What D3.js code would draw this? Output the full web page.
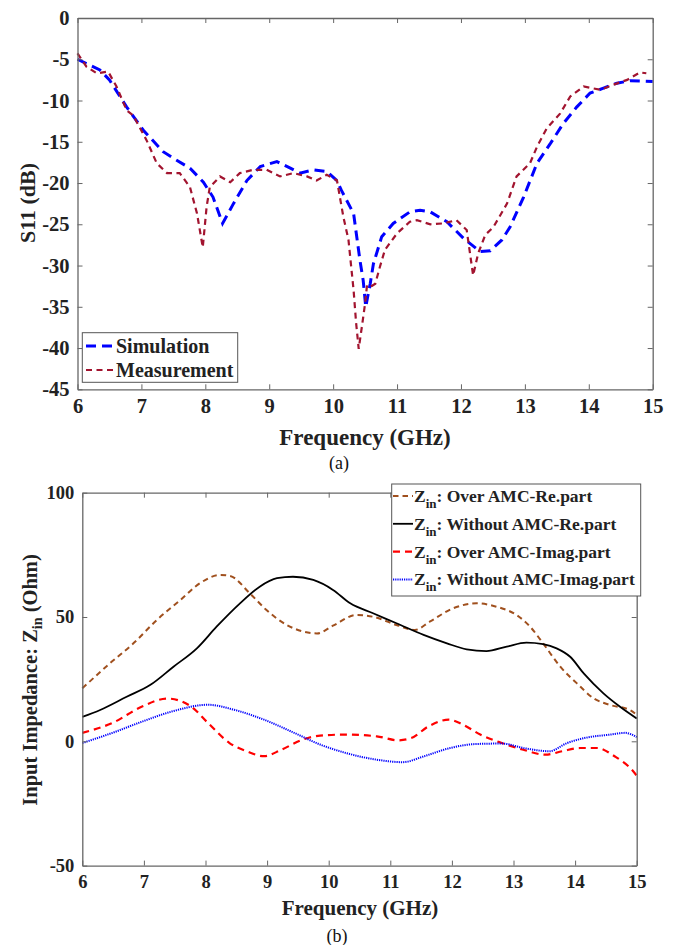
<!DOCTYPE html>
<html>
<head>
<meta charset="utf-8">
<script src="https://cdn.jsdelivr.net/npm/d3@7"></script>
<style>
  body { margin: 0; background: #fff; }
  svg { display: block; }
  .tick text { font-family: "Liberation Serif", "Times New Roman", serif; font-weight: bold; fill: #222; }
  .domain, .tick line { stroke: #666; }
  .lbl { font-family: "Liberation Serif", "Times New Roman", serif; font-weight: bold; fill: #222; }
  .cap { font-family: "Liberation Serif", "Times New Roman", serif; fill: #111; }
</style>
</head>
<body>
<div id="chart"></div>
<script>
// (a) S11 data
const simFreq = [6, 6.35, 6.5, 6.77, 7.03, 7.34, 7.5, 7.76, 7.97, 8.12, 8.27, 8.44, 8.65, 8.86, 9.12, 9.33, 9.48, 9.69, 9.9, 10.06,
  10.13, 10.32, 10.42, 10.47, 10.51, 10.58, 10.63, 10.76, 10.94, 11.2, 11.36, 11.52, 11.78, 12.04, 12.3, 12.46, 12.64, 12.77,
  12.98, 13.19, 13.4, 13.6, 13.81, 14.02, 14.23, 14.44, 14.65, 15];
const simS11 = [-5, -6.3, -7.5, -10.8, -13.6, -16.2, -17, -18.2, -19.9, -21.7, -24.9, -22.5, -19.7, -18, -17.4, -18.2, -18.8, -18.4, -18.6, -19.7,
  -20.9, -23.7, -29.4, -31.8, -35, -32.2, -29.8, -26.5, -24.9, -23.5, -23.3, -23.5, -24.7, -26.7, -28.3, -28.2, -26.9, -25.3,
  -21.7, -17.6, -15.2, -12.8, -10.8, -9.1, -8.5, -7.9, -7.6, -7.7];

const measFreq = [6, 6.14, 6.3, 6.48, 6.61, 6.77, 6.87, 7.08, 7.24, 7.4, 7.6, 7.76, 7.87, 7.96, 8.02, 8.07, 8.23, 8.39, 8.54, 8.75,
  8.96, 9.17, 9.38, 9.59, 9.74, 9.9, 10.06, 10.16, 10.24, 10.32, 10.36, 10.4, 10.45, 10.5, 10.53, 10.58, 10.66, 10.73, 10.81, 11,
  11.2, 11.31, 11.52, 11.72, 11.93, 12.09, 12.19, 12.27, 12.38, 12.51, 12.72, 12.87, 13.08, 13.19, 13.34, 13.55, 13.71, 13.92,
  14.18, 14.38, 14.6, 14.8, 14.9];
const measS11 = [-4.3, -5.9, -6.7, -6.5, -8.3, -11.2, -11.8, -14.8, -17.6, -18.8, -18.8, -20.5, -23.7, -27.8, -22.9, -20.5, -19.2, -19.9, -18.8, -18.4,
  -18.4, -19.2, -18.8, -19.2, -19.7, -19, -19.7, -24.1, -26.9, -33, -37, -40.1, -37.4, -34.6, -32.4, -32.6, -32.2, -30.2, -28.1, -26.1,
  -24.7, -24.5, -25, -24.9, -24.5, -25.7, -31.2, -28.5, -26.3, -25.3, -22.5, -19.2, -17.6, -15.6, -13.4, -11.6, -9.5, -8.3,
  -8.7, -8.1, -7.5, -6.6, -6.7];

// (b) input impedance data
const overReFreq = [6, 6.45, 6.83, 7.21, 7.59, 7.91, 8.24, 8.4, 8.72, 8.99, 9.32, 9.81, 10.07, 10.45, 10.72, 11.1, 11.4, 11.64,
  12.02, 12.4, 12.73, 13.05, 13.27, 13.48, 13.76, 14.03, 14.3, 14.57, 14.89, 15];
const overRe = [21.3, 31.4, 39.4, 48.8, 56.8, 63.6, 66.9, 66.5, 59.5, 52.8, 46.8, 43.4, 46.5, 50.8, 50.1, 46.8, 44.8, 48.1,
  53.5, 55.5, 54.1, 50.8, 46.1, 39.4, 30, 23.3, 17.3, 14.6, 12.6, 10.6];

const withoutReFreq = [6, 6.29, 6.72, 7.1, 7.48, 7.86, 8.18, 8.56, 8.88, 9.16, 9.42, 9.75, 10.07, 10.35, 10.72, 11.1, 11.54,
  11.92, 12.24, 12.56, 12.89, 13.21, 13.48, 13.7, 13.92, 14.14, 14.46, 14.73, 15];
const withoutRe = [9.8, 12.6, 17.9, 22.6, 30, 37.4, 46.1, 55.5, 62.2, 65.6, 66.2, 64.9, 60.9, 55.5, 51.5, 47.5, 42.8,
  39.4, 37, 36.3, 38.1, 39.7, 39.1, 37.4, 34, 27.3, 19.3, 13.9, 9.2];

const overImFreq = [6, 6.49, 6.98, 7.38, 7.76, 8.04, 8.39, 8.67, 8.95, 9.23, 9.58, 9.86, 10.28, 10.78, 11.13, 11.34, 11.62,
  11.95, 12.18, 12.46, 12.81, 13.16, 13.52, 13.79, 14.08, 14.36, 14.64, 14.92, 15];
const overIm = [3.4, 7.4, 14.1, 17.2, 14.1, 7.4, -0.7, -4, -6, -3.4, 0.7, 2.3, 2.7, 2, 0.4, 1.3, 6,
  8.7, 6.7, 2.7, -0.7, -3.4, -5.4, -4, -2.7, -2.7, -6, -11.4, -13.8];

const withoutImFreq = [6, 6.49, 6.98, 7.47, 8.04, 8.46, 8.95, 9.44, 9.86, 10.28, 10.78, 11.2, 11.55, 11.97, 12.39, 12.81,
  13.16, 13.58, 13.87, 14.15, 14.57, 14.81, 15];
const withoutIm = [-0.7, 3.4, 8, 12.1, 14.7, 12.7, 8.7, 3.4, -1.3, -4.7, -7.4, -8.4, -6, -2.7, -1.1, -0.9,
  -2.7, -4, -0.7, 1.3, 2.7, 3.4, 1.7];

const freqTicks = [6, 7, 8, 9, 10, 11, 12, 13, 14, 15];
const s11Ticks = [0, -5, -10, -15, -20, -25, -30, -35, -40, -45];
const zTicks = [-50, 0, 50, 100];

const W = 678, H = 945;
const svg = d3.select('#chart').append('svg')
  .attr('width', W)
  .attr('height', H)
  .style('background', '#fff');

const zip = (xs, ys) => xs.map((x, i) => [x, ys[i]]);

// draw a MATLAB style boxed axis, ticks pointing in
function drawFrame(g, x, y, yTicks, fs) {
  const [x0, x1] = x.range(), [y1, y0] = y.range();
  const tk = 5;
  g.append('g')
    .attr('transform', 'translate(0,' + y1 + ')')
    .call(d3.axisBottom(x).tickValues(freqTicks).tickFormat(d => String(d))
      .tickSizeInner(-tk).tickSizeOuter(0).tickPadding(9))
    .call(a => a.selectAll('text').style('font-size', fs + 'px'));
  g.append('g')
    .attr('transform', 'translate(0,' + y0 + ')')
    .call(d3.axisTop(x).tickValues(freqTicks).tickFormat('')
      .tickSizeInner(-tk).tickSizeOuter(0));
  g.append('g')
    .attr('transform', 'translate(' + x0 + ',0)')
    .call(d3.axisLeft(y).tickValues(yTicks).tickFormat(d => String(d))
      .tickSizeInner(-tk).tickSizeOuter(0).tickPadding(8))
    .call(a => a.selectAll('text').style('font-size', fs + 'px'));
  g.append('g')
    .attr('transform', 'translate(' + x1 + ',0)')
    .call(d3.axisRight(y).tickValues(yTicks).tickFormat('')
      .tickSizeInner(-tk).tickSizeOuter(0));
  g.selectAll('.domain').attr('stroke-width', 1.3);
  g.selectAll('.tick line').attr('stroke-width', 1);
}

function drawLine(g, data, x, y, style) {
  g.append('path')
    .datum(data)
    .attr('fill', 'none')
    .attr('stroke', style.color)
    .attr('stroke-width', style.width)
    .attr('stroke-dasharray', style.dash)
    .attr('d', d3.line().x(d => x(d[0])).y(d => y(d[1])).curve(style.curve || d3.curveLinear));
}

// ---------- (a) S11 ----------
const xA = d3.scaleLinear().domain([6, 15]).range([77.5, 652.7]);
const yA = d3.scaleLinear().domain([-45, 0]).range([389.3, 18]);
const gA = svg.append('g');

const simStyle = {color: '#0000ff', width: 3, dash: '10,6'};
const measStyle = {color: '#a2142f', width: 2.2, dash: '6,4.5'};
drawLine(gA, zip(simFreq, simS11), xA, yA, simStyle);
drawLine(gA, zip(measFreq, measS11), xA, yA, measStyle);
drawFrame(gA, xA, yA, s11Ticks, 20.5);

gA.append('text').attr('class', 'lbl')
  .attr('x', 365).attr('y', 445)
  .attr('text-anchor', 'middle').style('font-size', '23px')
  .text('Frequency (GHz)');
gA.append('text').attr('class', 'lbl')
  .attr('transform', 'translate(35,203) rotate(-90)')
  .attr('text-anchor', 'middle').style('font-size', '22px')
  .text('S11 (dB)');
svg.append('text').attr('class', 'cap')
  .attr('x', 339).attr('y', 469)
  .attr('text-anchor', 'middle').style('font-size', '18px')
  .text('(a)');

// legend (a)
const legA = gA.append('g');
legA.append('rect')
  .attr('x', 82.3).attr('y', 332.7).attr('width', 155.4).attr('height', 49.6)
  .attr('fill', '#fff').attr('stroke', '#555').attr('stroke-width', 1);
[['Simulation', simStyle], ['Measurement', measStyle]].forEach(([name, st], i) => {
  const cy = 346 + i * 24;
  legA.append('line')
    .attr('x1', 86).attr('x2', 114).attr('y1', cy).attr('y2', cy)
    .attr('stroke', st.color).attr('stroke-width', st.width).attr('stroke-dasharray', st.dash);
  legA.append('text').attr('class', 'lbl')
    .attr('x', 116).attr('y', cy + 7).style('font-size', '20px')
    .text(name);
});

// ---------- (b) Input impedance ----------
const xB = d3.scaleLinear().domain([6, 15]).range([82.3, 636.7]);
const yB = d3.scaleLinear().domain([-50, 100]).range([865.6, 492.7]);
const gB = svg.append('g');

const seriesB = [
  {name: ': Over AMC-Re.part', data: zip(overReFreq, overRe), color: '#a0501e', width: 2, dash: '5.5,4'},
  {name: ': Without AMC-Re.part', data: zip(withoutReFreq, withoutRe), color: '#000', width: 1.8, dash: null},
  {name: ': Over AMC-Imag.part', data: zip(overImFreq, overIm), color: '#ff0000', width: 2.2, dash: '7,5'},
  {name: ': Without AMC-Imag.part', data: zip(withoutImFreq, withoutIm), color: '#0000ff', width: 2, dash: '1.2,1'}
];
seriesB.forEach(s => drawLine(gB, s.data, xB, yB, Object.assign({curve: d3.curveMonotoneX}, s)));
drawFrame(gB, xB, yB, zTicks, 18.5);

gB.append('text').attr('class', 'lbl')
  .attr('x', 360).attr('y', 915)
  .attr('text-anchor', 'middle').style('font-size', '21px')
  .text('Frequency (GHz)');
const yl = gB.append('text').attr('class', 'lbl')
  .attr('transform', 'translate(37,680) rotate(-90)')
  .attr('text-anchor', 'middle').style('font-size', '20.5px');
yl.append('tspan').text('Input Impedance: Z');
yl.append('tspan').attr('dy', 5).style('font-size', '14px').text('in');
yl.append('tspan').attr('dy', -5).text(' (Ohm)');
svg.append('text').attr('class', 'cap')
  .attr('x', 337).attr('y', 942)
  .attr('text-anchor', 'middle').style('font-size', '18px')
  .text('(b)');

// legend (b)
const legB = gB.append('g');
legB.append('rect')
  .attr('x', 391.7).attr('y', 484).attr('width', 249).attr('height', 112)
  .attr('fill', '#fff').attr('stroke', '#555').attr('stroke-width', 1);
seriesB.forEach((s, i) => {
  const cy = 496 + i * 27.8;
  legB.append('line')
    .attr('x1', 393).attr('x2', 413).attr('y1', cy).attr('y2', cy)
    .attr('stroke', s.color).attr('stroke-width', s.width).attr('stroke-dasharray', s.dash);
  const t = legB.append('text').attr('class', 'lbl')
    .attr('x', 414).attr('y', cy + 6).style('font-size', '17.5px');
  t.append('tspan').text('Z');
  t.append('tspan').attr('dy', 6).style('font-size', '13px').text('in');
  t.append('tspan').attr('dy', -6).text(s.name);
});
</script>
</body>
</html>
